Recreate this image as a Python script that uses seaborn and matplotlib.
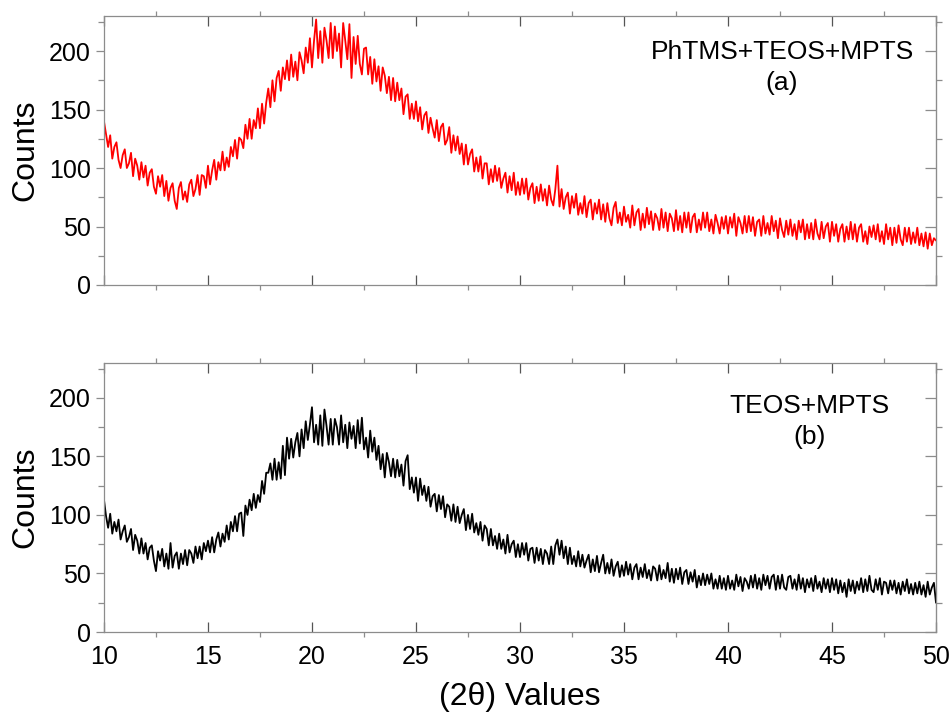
import numpy as np
import pandas as pd
import matplotlib
matplotlib.use("Agg")
import matplotlib.pyplot as plt
import seaborn as sns
from matplotlib.ticker import MultipleLocator

# scan grid, 2theta from 10 to 50 deg, step 0.1
two_theta = np.round(np.arange(100, 501) / 10.0, 1)

# (a) PhTMS+TEOS+MPTS, counts (rows = 1 degree)
counts_a = [
    140, 129, 118, 128, 108, 118, 122, 107, 100, 111,
    116, 100, 104, 113, 93, 108, 102, 90, 105, 92,
    102, 85, 96, 99, 84, 78, 93, 84, 94, 76,
    89, 72, 83, 87, 72, 65, 83, 88, 73, 80,
    71, 86, 90, 76, 82, 94, 77, 94, 93, 83,
    102, 86, 98, 107, 90, 105, 98, 114, 98, 109,
    101, 118, 110, 124, 108, 126, 124, 117, 137, 125,
    142, 125, 141, 134, 151, 134, 155, 138, 156, 168,
    152, 175, 157, 177, 183, 166, 186, 176, 192, 175,
    197, 178, 191, 175, 199, 192, 181, 203, 190, 211,
    186, 209, 227, 194, 217, 190, 220, 209, 194, 224,
    194, 221, 200, 215, 186, 224, 209, 193, 223, 177,
    212, 189, 213, 189, 180, 202, 203, 180, 195, 172,
    193, 174, 187, 166, 186, 179, 164, 178, 158, 177,
    157, 173, 158, 168, 146, 161, 163, 142, 155, 142,
    157, 140, 152, 133, 145, 148, 130, 143, 134, 126,
    141, 123, 135, 138, 120, 124, 135, 113, 128, 115,
    127, 112, 121, 103, 120, 103, 112, 116, 97, 109,
    97, 110, 91, 104, 104, 86, 99, 88, 102, 89,
    100, 83, 91, 96, 79, 93, 81, 96, 77, 88,
    77, 91, 78, 91, 73, 83, 87, 70, 84, 72,
    86, 72, 82, 68, 85, 73, 68, 82, 102, 67,
    82, 65, 75, 79, 61, 76, 66, 78, 60, 70,
    61, 76, 58, 70, 73, 56, 70, 61, 73, 56,
    69, 54, 70, 57, 51, 66, 71, 53, 62, 51,
    67, 54, 60, 49, 68, 51, 62, 65, 47, 61,
    49, 66, 52, 63, 47, 61, 57, 47, 65, 49,
    62, 46, 61, 57, 46, 64, 47, 59, 45, 62,
    49, 62, 45, 58, 61, 45, 56, 47, 62, 49,
    62, 46, 56, 44, 60, 53, 44, 58, 48, 59,
    44, 58, 49, 61, 42, 58, 53, 44, 59, 45,
    59, 46, 58, 42, 54, 56, 42, 59, 44, 53,
    43, 59, 46, 55, 40, 57, 47, 41, 55, 43,
    56, 42, 52, 39, 55, 45, 56, 39, 52, 40,
    53, 39, 56, 44, 39, 54, 40, 50, 53, 37,
    54, 42, 52, 37, 48, 52, 37, 50, 39, 54,
    39, 52, 37, 49, 52, 37, 46, 35, 50, 41,
    51, 39, 52, 37, 46, 35, 52, 39, 49, 34,
    49, 36, 51, 39, 34, 49, 37, 49, 35, 45,
    36, 49, 34, 44, 33, 45, 31, 44, 34, 40,
    38,
]

# (b) TEOS+MPTS, counts
counts_b = [
    113, 99, 89, 101, 84, 94, 86, 96, 79, 86,
    91, 77, 81, 88, 70, 83, 78, 67, 80, 67,
    76, 62, 72, 74, 61, 52, 69, 61, 71, 56,
    67, 54, 76, 55, 65, 68, 54, 67, 58, 70,
    57, 70, 67, 59, 73, 63, 73, 62, 76, 69,
    78, 68, 81, 68, 79, 85, 73, 84, 77, 91,
    79, 94, 86, 99, 86, 101, 102, 82, 108, 100,
    113, 104, 118, 106, 117, 111, 129, 118, 136, 136,
    144, 130, 148, 130, 145, 131, 159, 134, 166, 148,
    165, 149, 162, 170, 150, 173, 157, 180, 164, 177,
    192, 162, 177, 160, 185, 159, 190, 176, 160, 182,
    160, 182, 175, 160, 185, 162, 177, 157, 179, 165,
    176, 157, 181, 161, 183, 156, 166, 149, 172, 154,
    166, 147, 159, 139, 152, 132, 153, 145, 133, 148,
    132, 147, 133, 143, 125, 146, 151, 122, 132, 119,
    132, 112, 131, 117, 125, 112, 124, 107, 116, 118,
    103, 117, 105, 116, 98, 109, 107, 95, 109, 94,
    107, 93, 100, 105, 87, 100, 88, 101, 85, 93,
    83, 94, 78, 91, 88, 74, 88, 74, 82, 71,
    84, 71, 79, 67, 83, 68, 75, 78, 64, 75,
    64, 76, 66, 76, 61, 71, 72, 59, 72, 61,
    71, 58, 70, 67, 58, 73, 58, 74, 79, 66,
    78, 63, 73, 58, 72, 58, 65, 56, 69, 56,
    66, 55, 61, 66, 51, 62, 52, 65, 51, 59,
    66, 50, 59, 50, 62, 48, 56, 60, 47, 57,
    48, 60, 49, 58, 45, 55, 58, 45, 55, 47,
    58, 46, 53, 44, 56, 54, 44, 57, 45, 53,
    46, 59, 43, 54, 42, 54, 45, 55, 41, 51,
    53, 41, 51, 43, 53, 38, 48, 40, 50, 40,
    49, 41, 50, 37, 45, 37, 48, 37, 46, 36,
    48, 37, 44, 36, 49, 39, 47, 35, 46, 43,
    37, 48, 38, 49, 37, 46, 36, 49, 40, 48,
    37, 47, 49, 36, 48, 37, 49, 38, 36, 47,
    48, 37, 45, 36, 49, 37, 46, 34, 45, 38,
    46, 35, 48, 37, 43, 34, 46, 37, 45, 34,
    46, 36, 45, 33, 44, 34, 42, 30, 45, 35,
    44, 33, 43, 36, 46, 34, 45, 35, 48, 36,
    34, 45, 36, 46, 32, 43, 42, 33, 44, 36,
    44, 33, 42, 32, 43, 35, 45, 33, 41, 32,
    42, 33, 43, 32, 40, 30, 43, 32, 38, 42,
    25,
]

labels = ["PhTMS+TEOS+MPTS\n(a)", "TEOS+MPTS\n(b)"]
label_pos = [(42.6, 186), (43.9, 180)]
colors = ["#ff0000", "#000000"]

sns.set_style("white")
plt.rcParams["font.family"] = ["Liberation Sans", "DejaVu Sans"]
plt.rcParams["text.color"] = "black"
plt.rcParams["axes.labelcolor"] = "black"
plt.rcParams["xtick.color"] = "black"
plt.rcParams["ytick.color"] = "black"

fig = plt.figure(figsize=(9.52, 7.13), dpi=100)
ax_top = fig.add_axes([0.1092, 0.6003, 0.874, 0.3773])
ax_bot = fig.add_axes([0.1092, 0.1136, 0.874, 0.3777])

spine_col = "#8c8c8c"

for ax, counts, col, lab, pos in zip([ax_top, ax_bot], [counts_a, counts_b],
                                     colors, labels, label_pos):
    df = pd.DataFrame({"two_theta": two_theta, "counts": counts})
    sns.lineplot(data=df, x="two_theta", y="counts", ax=ax, color=col,
                 linewidth=1.3, estimator=None)
    ax.set_xlim(10, 50)
    ax.set_ylim(0, 230)
    ax.xaxis.set_major_locator(MultipleLocator(5))
    ax.xaxis.set_minor_locator(MultipleLocator(2.5))
    ax.yaxis.set_major_locator(MultipleLocator(50))
    ax.yaxis.set_minor_locator(MultipleLocator(25))
    for s in ax.spines.values():
        s.set_color(spine_col)
        s.set_linewidth(0.9)
    ax.tick_params(axis="x", which="major", direction="in", length=7,
                   top=True, bottom=True, color="#555555", width=0.9,
                   labelsize=18, pad=9)
    ax.tick_params(axis="x", which="minor", direction="out", length=3.5,
                   top=True, bottom=True, color=spine_col, width=0.9)
    ax.tick_params(axis="y", which="both", direction="out", left=True,
                   right=False, color=spine_col, width=0.9)
    ax.tick_params(axis="y", which="major", length=5.5, labelsize=18, pad=4)
    ax.tick_params(axis="y", which="minor", length=4.5)

    # right-hand ticks: majors inward, minors outward
    sec = ax.secondary_yaxis("right")
    sec.yaxis.set_major_locator(MultipleLocator(50))
    sec.yaxis.set_minor_locator(MultipleLocator(25))
    sec.spines["right"].set_color(spine_col)
    sec.tick_params(which="major", direction="in", length=8,
                    color=spine_col, width=0.9, labelright=False)
    sec.tick_params(which="minor", direction="out", length=4,
                    color=spine_col, width=0.9)

    ax.set_xlabel("")
    ax.set_ylabel("Counts", fontsize=23, va="center")
    ax.yaxis.set_label_coords(-0.095, 0.5)
    ax.text(pos[0], pos[1], lab, ha="center", va="center", fontsize=19,
            linespacing=1.35)

ax_top.tick_params(axis="x", labelbottom=False)
ax_bot.set_xlabel("(2θ) Values", fontsize=23, labelpad=10)

fig.savefig("out.png", dpi=100)
